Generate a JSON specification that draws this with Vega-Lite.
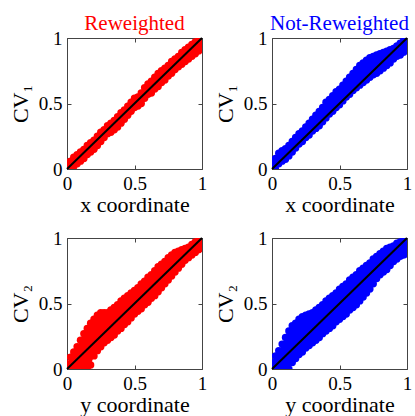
{
  "$schema": "https://vega.github.io/schema/vega-lite/v6.json",
  "padding": {"left": 8, "top": 12, "right": 2, "bottom": 0},
  "background": "white",
  "spacing": 12,
  "config": {
    "view": {"stroke": "#444", "strokeWidth": 1},
    "title": {"font": "Liberation Serif", "fontSize": 21, "fontWeight": "normal", "offset": -5, "frame": "group", "baseline": "alphabetic"}
  },
  "datasets": {
    "band": [
      {"p":"A","x":0,"lo":-0.02,"hi":0.02},{"p":"A","x":0.025,"lo":-0.01,"hi":0.06},{"p":"A","x":0.05,"lo":0.02,"hi":0.09},{"p":"A","x":0.075,"lo":0.04,"hi":0.11},{"p":"A","x":0.1,"lo":0.06,"hi":0.13},{"p":"A","x":0.125,"lo":0.08,"hi":0.15},{"p":"A","x":0.15,"lo":0.11,"hi":0.18},{"p":"A","x":0.175,"lo":0.13,"hi":0.2},{"p":"A","x":0.2,"lo":0.15,"hi":0.22},{"p":"A","x":0.225,"lo":0.18,"hi":0.25},{"p":"A","x":0.25,"lo":0.21,"hi":0.28},{"p":"A","x":0.275,"lo":0.24,"hi":0.3},{"p":"A","x":0.3,"lo":0.27,"hi":0.33},{"p":"A","x":0.325,"lo":0.28,"hi":0.35},{"p":"A","x":0.35,"lo":0.3,"hi":0.37},{"p":"A","x":0.375,"lo":0.32,"hi":0.4},{"p":"A","x":0.4,"lo":0.35,"hi":0.43},{"p":"A","x":0.425,"lo":0.38,"hi":0.45},{"p":"A","x":0.45,"lo":0.41,"hi":0.48},{"p":"A","x":0.475,"lo":0.44,"hi":0.51},{"p":"A","x":0.5,"lo":0.47,"hi":0.54},{"p":"A","x":0.525,"lo":0.48,"hi":0.55},{"p":"A","x":0.55,"lo":0.5,"hi":0.58},{"p":"A","x":0.575,"lo":0.54,"hi":0.62},{"p":"A","x":0.6,"lo":0.57,"hi":0.65},{"p":"A","x":0.625,"lo":0.58,"hi":0.67},{"p":"A","x":0.65,"lo":0.61,"hi":0.7},{"p":"A","x":0.675,"lo":0.63,"hi":0.73},{"p":"A","x":0.7,"lo":0.66,"hi":0.75},{"p":"A","x":0.725,"lo":0.68,"hi":0.77},{"p":"A","x":0.75,"lo":0.71,"hi":0.79},{"p":"A","x":0.775,"lo":0.73,"hi":0.82},{"p":"A","x":0.8,"lo":0.76,"hi":0.84},{"p":"A","x":0.825,"lo":0.78,"hi":0.86},{"p":"A","x":0.85,"lo":0.8,"hi":0.89},{"p":"A","x":0.875,"lo":0.82,"hi":0.91},{"p":"A","x":0.9,"lo":0.84,"hi":0.93},{"p":"A","x":0.925,"lo":0.86,"hi":0.95},{"p":"A","x":0.95,"lo":0.88,"hi":0.97},{"p":"A","x":0.975,"lo":0.9,"hi":0.99},{"p":"A","x":1,"lo":0.93,"hi":1.01},
      {"p":"B","x":0,"lo":-0.02,"hi":0.04},{"p":"B","x":0.025,"lo":0,"hi":0.08},{"p":"B","x":0.05,"lo":0.04,"hi":0.12},{"p":"B","x":0.075,"lo":0.06,"hi":0.14},{"p":"B","x":0.1,"lo":0.075,"hi":0.155},{"p":"B","x":0.125,"lo":0.1,"hi":0.18},{"p":"B","x":0.15,"lo":0.13,"hi":0.21},{"p":"B","x":0.175,"lo":0.16,"hi":0.24},{"p":"B","x":0.2,"lo":0.19,"hi":0.27},{"p":"B","x":0.225,"lo":0.21,"hi":0.29},{"p":"B","x":0.25,"lo":0.24,"hi":0.32},{"p":"B","x":0.275,"lo":0.26,"hi":0.35},{"p":"B","x":0.3,"lo":0.29,"hi":0.38},{"p":"B","x":0.325,"lo":0.31,"hi":0.41},{"p":"B","x":0.35,"lo":0.33,"hi":0.44},{"p":"B","x":0.375,"lo":0.36,"hi":0.47},{"p":"B","x":0.4,"lo":0.39,"hi":0.51},{"p":"B","x":0.425,"lo":0.42,"hi":0.53},{"p":"B","x":0.45,"lo":0.44,"hi":0.56},{"p":"B","x":0.475,"lo":0.47,"hi":0.59},{"p":"B","x":0.5,"lo":0.49,"hi":0.61},{"p":"B","x":0.525,"lo":0.52,"hi":0.64},{"p":"B","x":0.55,"lo":0.55,"hi":0.67},{"p":"B","x":0.575,"lo":0.57,"hi":0.7},{"p":"B","x":0.6,"lo":0.6,"hi":0.73},{"p":"B","x":0.625,"lo":0.62,"hi":0.76},{"p":"B","x":0.65,"lo":0.64,"hi":0.79},{"p":"B","x":0.675,"lo":0.66,"hi":0.81},{"p":"B","x":0.7,"lo":0.68,"hi":0.83},{"p":"B","x":0.725,"lo":0.7,"hi":0.85},{"p":"B","x":0.75,"lo":0.72,"hi":0.86},{"p":"B","x":0.775,"lo":0.73,"hi":0.87},{"p":"B","x":0.8,"lo":0.75,"hi":0.88},{"p":"B","x":0.825,"lo":0.77,"hi":0.89},{"p":"B","x":0.85,"lo":0.79,"hi":0.9},{"p":"B","x":0.875,"lo":0.81,"hi":0.91},{"p":"B","x":0.9,"lo":0.84,"hi":0.92},{"p":"B","x":0.925,"lo":0.86,"hi":0.94},{"p":"B","x":0.95,"lo":0.87,"hi":0.96},{"p":"B","x":0.975,"lo":0.89,"hi":0.98},{"p":"B","x":1,"lo":0.91,"hi":1},
      {"p":"C","x":0,"lo":-0.03,"hi":0.04},{"p":"C","x":0.025,"lo":-0.02,"hi":0.09},{"p":"C","x":0.05,"lo":0,"hi":0.13},{"p":"C","x":0.075,"lo":0.01,"hi":0.17},{"p":"C","x":0.1,"lo":0.03,"hi":0.22},{"p":"C","x":0.125,"lo":0.01,"hi":0.27},{"p":"C","x":0.15,"lo":0,"hi":0.31},{"p":"C","x":0.175,"lo":0.03,"hi":0.35},{"p":"C","x":0.2,"lo":0.1,"hi":0.38},{"p":"C","x":0.225,"lo":0.14,"hi":0.41},{"p":"C","x":0.25,"lo":0.17,"hi":0.43},{"p":"C","x":0.275,"lo":0.2,"hi":0.43},{"p":"C","x":0.3,"lo":0.22,"hi":0.43},{"p":"C","x":0.325,"lo":0.24,"hi":0.45},{"p":"C","x":0.35,"lo":0.26,"hi":0.47},{"p":"C","x":0.375,"lo":0.29,"hi":0.49},{"p":"C","x":0.4,"lo":0.31,"hi":0.52},{"p":"C","x":0.425,"lo":0.34,"hi":0.54},{"p":"C","x":0.45,"lo":0.36,"hi":0.56},{"p":"C","x":0.475,"lo":0.39,"hi":0.58},{"p":"C","x":0.5,"lo":0.42,"hi":0.6},{"p":"C","x":0.525,"lo":0.44,"hi":0.62},{"p":"C","x":0.55,"lo":0.46,"hi":0.65},{"p":"C","x":0.575,"lo":0.49,"hi":0.67},{"p":"C","x":0.6,"lo":0.51,"hi":0.7},{"p":"C","x":0.625,"lo":0.54,"hi":0.72},{"p":"C","x":0.65,"lo":0.56,"hi":0.75},{"p":"C","x":0.675,"lo":0.59,"hi":0.78},{"p":"C","x":0.7,"lo":0.62,"hi":0.8},{"p":"C","x":0.725,"lo":0.65,"hi":0.82},{"p":"C","x":0.75,"lo":0.68,"hi":0.85},{"p":"C","x":0.775,"lo":0.71,"hi":0.87},{"p":"C","x":0.8,"lo":0.74,"hi":0.89},{"p":"C","x":0.825,"lo":0.77,"hi":0.9},{"p":"C","x":0.85,"lo":0.8,"hi":0.91},{"p":"C","x":0.875,"lo":0.83,"hi":0.92},{"p":"C","x":0.9,"lo":0.85,"hi":0.93},{"p":"C","x":0.925,"lo":0.87,"hi":0.95},{"p":"C","x":0.95,"lo":0.89,"hi":0.97},{"p":"C","x":0.975,"lo":0.91,"hi":0.99},{"p":"C","x":1,"lo":0.93,"hi":1.01},
      {"p":"D","x":0,"lo":-0.03,"hi":0.05},{"p":"D","x":0.025,"lo":-0.03,"hi":0.1},{"p":"D","x":0.05,"lo":-0.02,"hi":0.14},{"p":"D","x":0.075,"lo":-0.02,"hi":0.19},{"p":"D","x":0.1,"lo":-0.01,"hi":0.24},{"p":"D","x":0.125,"lo":0,"hi":0.29},{"p":"D","x":0.15,"lo":0.05,"hi":0.33},{"p":"D","x":0.175,"lo":0.08,"hi":0.35},{"p":"D","x":0.2,"lo":0.11,"hi":0.38},{"p":"D","x":0.225,"lo":0.13,"hi":0.4},{"p":"D","x":0.25,"lo":0.16,"hi":0.41},{"p":"D","x":0.275,"lo":0.18,"hi":0.42},{"p":"D","x":0.3,"lo":0.2,"hi":0.43},{"p":"D","x":0.325,"lo":0.22,"hi":0.45},{"p":"D","x":0.35,"lo":0.24,"hi":0.47},{"p":"D","x":0.375,"lo":0.27,"hi":0.49},{"p":"D","x":0.4,"lo":0.29,"hi":0.52},{"p":"D","x":0.425,"lo":0.31,"hi":0.54},{"p":"D","x":0.45,"lo":0.33,"hi":0.56},{"p":"D","x":0.475,"lo":0.36,"hi":0.58},{"p":"D","x":0.5,"lo":0.38,"hi":0.61},{"p":"D","x":0.525,"lo":0.4,"hi":0.63},{"p":"D","x":0.55,"lo":0.42,"hi":0.65},{"p":"D","x":0.575,"lo":0.45,"hi":0.68},{"p":"D","x":0.6,"lo":0.47,"hi":0.7},{"p":"D","x":0.625,"lo":0.49,"hi":0.72},{"p":"D","x":0.65,"lo":0.52,"hi":0.75},{"p":"D","x":0.675,"lo":0.55,"hi":0.77},{"p":"D","x":0.7,"lo":0.58,"hi":0.79},{"p":"D","x":0.725,"lo":0.61,"hi":0.81},{"p":"D","x":0.75,"lo":0.65,"hi":0.84},{"p":"D","x":0.775,"lo":0.69,"hi":0.86},{"p":"D","x":0.8,"lo":0.72,"hi":0.88},{"p":"D","x":0.825,"lo":0.74,"hi":0.9},{"p":"D","x":0.85,"lo":0.76,"hi":0.92},{"p":"D","x":0.875,"lo":0.79,"hi":0.93},{"p":"D","x":0.9,"lo":0.82,"hi":0.94},{"p":"D","x":0.925,"lo":0.84,"hi":0.96},{"p":"D","x":0.95,"lo":0.86,"hi":0.97},{"p":"D","x":0.975,"lo":0.87,"hi":0.99},{"p":"D","x":1,"lo":0.88,"hi":1}
    ],
    "diag": [{"x": 0, "y": 0}, {"x": 1, "y": 1}]
  },
  "vconcat": [
    {
      "spacing": 5,
      "hconcat": [
        {
          "width": 135, "height": 131,
          "title": {"text": "Reweighted", "color": "#ff0000"},
          "layer": [
            {"data": {"name": "band"}, "transform": [{"filter": "datum.p == 'A'"}],
             "mark": {"type": "area", "color": "#ff0000", "clip": true},
             "encoding": {
               "x": {"field": "x", "type": "quantitative", "scale": {"domain": [0, 1]}, "axis": {"orient": "bottom", "title": "x coordinate", "values": [0, 0.5, 1], "format": "~g", "labelFont": "Liberation Serif", "labelFontSize": 19, "labelColor": "#000", "labelFlush": false, "labelPadding": 9, "titleFont": "Liberation Serif", "titleFontSize": 22, "titleFontWeight": "normal", "titleColor": "#000", "titlePadding": 1, "domain": false, "grid": false, "tickColor": "#444", "tickSize": -4}},
               "y": {"field": "lo", "type": "quantitative", "scale": {"domain": [0, 1]}, "axis": {"orient": "left", "title": "CV₁", "values": [0, 0.5, 1], "format": "~g", "labelFont": "Liberation Serif", "labelFontSize": 19, "labelColor": "#000", "labelFlush": false, "labelPadding": 9, "titleFont": "Liberation Serif", "titleFontSize": 22, "titleFontWeight": "normal", "titleColor": "#000", "titlePadding": 6, "domain": false, "grid": false, "tickColor": "#444", "tickSize": -4}},
               "y2": {"field": "hi"}}},
            {"data": {"name": "band"}, "transform": [{"filter": "datum.p == 'A'"}],
             "mark": {"type": "circle", "color": "#ff0000", "opacity": 1, "size": 55, "clip": true},
             "encoding": {
               "x": {"field": "x", "type": "quantitative", "scale": {"domain": [0, 1]}, "axis": {"orient": "top", "labels": false, "title": null, "values": [0, 0.5, 1], "domain": false, "grid": false, "tickColor": "#444", "tickSize": -4}},
               "y": {"field": "lo", "type": "quantitative", "scale": {"domain": [0, 1]}, "axis": {"orient": "right", "labels": false, "title": null, "values": [0, 0.5, 1], "domain": false, "grid": false, "tickColor": "#444", "tickSize": -4}}}},
            {"data": {"name": "band"}, "transform": [{"filter": "datum.p == 'A'"}],
             "mark": {"type": "circle", "color": "#ff0000", "opacity": 1, "size": 55, "clip": true},
             "encoding": {
               "x": {"field": "x", "type": "quantitative", "scale": {"domain": [0, 1]}, "axis": null},
               "y": {"field": "hi", "type": "quantitative", "scale": {"domain": [0, 1]}, "axis": null}}},
            {"data": {"name": "diag"},
             "mark": {"type": "line", "color": "#000", "strokeWidth": 2},
             "encoding": {
               "x": {"field": "x", "type": "quantitative", "scale": {"domain": [0, 1]}, "axis": null},
               "y": {"field": "y", "type": "quantitative", "scale": {"domain": [0, 1]}, "axis": null}}}
          ]
        },
        {
          "width": 135, "height": 131,
          "title": {"text": "Not-Reweighted", "color": "#0000ff"},
          "layer": [
            {"data": {"name": "band"}, "transform": [{"filter": "datum.p == 'B'"}],
             "mark": {"type": "area", "color": "#0000ff", "clip": true},
             "encoding": {
               "x": {"field": "x", "type": "quantitative", "scale": {"domain": [0, 1]}, "axis": {"orient": "bottom", "title": "x coordinate", "values": [0, 0.5, 1], "format": "~g", "labelFont": "Liberation Serif", "labelFontSize": 19, "labelColor": "#000", "labelFlush": false, "labelPadding": 9, "titleFont": "Liberation Serif", "titleFontSize": 22, "titleFontWeight": "normal", "titleColor": "#000", "titlePadding": 1, "domain": false, "grid": false, "tickColor": "#444", "tickSize": -4}},
               "y": {"field": "lo", "type": "quantitative", "scale": {"domain": [0, 1]}, "axis": {"orient": "left", "title": "CV₁", "values": [0, 0.5, 1], "format": "~g", "labelFont": "Liberation Serif", "labelFontSize": 19, "labelColor": "#000", "labelFlush": false, "labelPadding": 9, "titleFont": "Liberation Serif", "titleFontSize": 22, "titleFontWeight": "normal", "titleColor": "#000", "titlePadding": 6, "domain": false, "grid": false, "tickColor": "#444", "tickSize": -4}},
               "y2": {"field": "hi"}}},
            {"data": {"name": "band"}, "transform": [{"filter": "datum.p == 'B'"}],
             "mark": {"type": "circle", "color": "#0000ff", "opacity": 1, "size": 55, "clip": true},
             "encoding": {
               "x": {"field": "x", "type": "quantitative", "scale": {"domain": [0, 1]}, "axis": {"orient": "top", "labels": false, "title": null, "values": [0, 0.5, 1], "domain": false, "grid": false, "tickColor": "#444", "tickSize": -4}},
               "y": {"field": "lo", "type": "quantitative", "scale": {"domain": [0, 1]}, "axis": {"orient": "right", "labels": false, "title": null, "values": [0, 0.5, 1], "domain": false, "grid": false, "tickColor": "#444", "tickSize": -4}}}},
            {"data": {"name": "band"}, "transform": [{"filter": "datum.p == 'B'"}],
             "mark": {"type": "circle", "color": "#0000ff", "opacity": 1, "size": 55, "clip": true},
             "encoding": {
               "x": {"field": "x", "type": "quantitative", "scale": {"domain": [0, 1]}, "axis": null},
               "y": {"field": "hi", "type": "quantitative", "scale": {"domain": [0, 1]}, "axis": null}}},
            {"data": {"name": "diag"},
             "mark": {"type": "line", "color": "#000", "strokeWidth": 2},
             "encoding": {
               "x": {"field": "x", "type": "quantitative", "scale": {"domain": [0, 1]}, "axis": null},
               "y": {"field": "y", "type": "quantitative", "scale": {"domain": [0, 1]}, "axis": null}}}
          ]
        }
      ]
    },
    {
      "spacing": 5,
      "hconcat": [
        {
          "width": 135, "height": 131,
          "layer": [
            {"data": {"name": "band"}, "transform": [{"filter": "datum.p == 'C'"}],
             "mark": {"type": "area", "color": "#ff0000", "clip": true},
             "encoding": {
               "x": {"field": "x", "type": "quantitative", "scale": {"domain": [0, 1]}, "axis": {"orient": "bottom", "title": "y coordinate", "values": [0, 0.5, 1], "format": "~g", "labelFont": "Liberation Serif", "labelFontSize": 19, "labelColor": "#000", "labelFlush": false, "labelPadding": 9, "titleFont": "Liberation Serif", "titleFontSize": 22, "titleFontWeight": "normal", "titleColor": "#000", "titlePadding": 1, "domain": false, "grid": false, "tickColor": "#444", "tickSize": -4}},
               "y": {"field": "lo", "type": "quantitative", "scale": {"domain": [0, 1]}, "axis": {"orient": "left", "title": "CV₂", "values": [0, 0.5, 1], "format": "~g", "labelFont": "Liberation Serif", "labelFontSize": 19, "labelColor": "#000", "labelFlush": false, "labelPadding": 9, "titleFont": "Liberation Serif", "titleFontSize": 22, "titleFontWeight": "normal", "titleColor": "#000", "titlePadding": 6, "domain": false, "grid": false, "tickColor": "#444", "tickSize": -4}},
               "y2": {"field": "hi"}}},
            {"data": {"name": "band"}, "transform": [{"filter": "datum.p == 'C'"}],
             "mark": {"type": "circle", "color": "#ff0000", "opacity": 1, "size": 55, "clip": true},
             "encoding": {
               "x": {"field": "x", "type": "quantitative", "scale": {"domain": [0, 1]}, "axis": {"orient": "top", "labels": false, "title": null, "values": [0, 0.5, 1], "domain": false, "grid": false, "tickColor": "#444", "tickSize": -4}},
               "y": {"field": "lo", "type": "quantitative", "scale": {"domain": [0, 1]}, "axis": {"orient": "right", "labels": false, "title": null, "values": [0, 0.5, 1], "domain": false, "grid": false, "tickColor": "#444", "tickSize": -4}}}},
            {"data": {"name": "band"}, "transform": [{"filter": "datum.p == 'C'"}],
             "mark": {"type": "circle", "color": "#ff0000", "opacity": 1, "size": 55, "clip": true},
             "encoding": {
               "x": {"field": "x", "type": "quantitative", "scale": {"domain": [0, 1]}, "axis": null},
               "y": {"field": "hi", "type": "quantitative", "scale": {"domain": [0, 1]}, "axis": null}}},
            {"data": {"name": "diag"},
             "mark": {"type": "line", "color": "#000", "strokeWidth": 2},
             "encoding": {
               "x": {"field": "x", "type": "quantitative", "scale": {"domain": [0, 1]}, "axis": null},
               "y": {"field": "y", "type": "quantitative", "scale": {"domain": [0, 1]}, "axis": null}}}
          ]
        },
        {
          "width": 135, "height": 131,
          "layer": [
            {"data": {"name": "band"}, "transform": [{"filter": "datum.p == 'D'"}],
             "mark": {"type": "area", "color": "#0000ff", "clip": true},
             "encoding": {
               "x": {"field": "x", "type": "quantitative", "scale": {"domain": [0, 1]}, "axis": {"orient": "bottom", "title": "y coordinate", "values": [0, 0.5, 1], "format": "~g", "labelFont": "Liberation Serif", "labelFontSize": 19, "labelColor": "#000", "labelFlush": false, "labelPadding": 9, "titleFont": "Liberation Serif", "titleFontSize": 22, "titleFontWeight": "normal", "titleColor": "#000", "titlePadding": 1, "domain": false, "grid": false, "tickColor": "#444", "tickSize": -4}},
               "y": {"field": "lo", "type": "quantitative", "scale": {"domain": [0, 1]}, "axis": {"orient": "left", "title": "CV₂", "values": [0, 0.5, 1], "format": "~g", "labelFont": "Liberation Serif", "labelFontSize": 19, "labelColor": "#000", "labelFlush": false, "labelPadding": 9, "titleFont": "Liberation Serif", "titleFontSize": 22, "titleFontWeight": "normal", "titleColor": "#000", "titlePadding": 6, "domain": false, "grid": false, "tickColor": "#444", "tickSize": -4}},
               "y2": {"field": "hi"}}},
            {"data": {"name": "band"}, "transform": [{"filter": "datum.p == 'D'"}],
             "mark": {"type": "circle", "color": "#0000ff", "opacity": 1, "size": 55, "clip": true},
             "encoding": {
               "x": {"field": "x", "type": "quantitative", "scale": {"domain": [0, 1]}, "axis": {"orient": "top", "labels": false, "title": null, "values": [0, 0.5, 1], "domain": false, "grid": false, "tickColor": "#444", "tickSize": -4}},
               "y": {"field": "lo", "type": "quantitative", "scale": {"domain": [0, 1]}, "axis": {"orient": "right", "labels": false, "title": null, "values": [0, 0.5, 1], "domain": false, "grid": false, "tickColor": "#444", "tickSize": -4}}}},
            {"data": {"name": "band"}, "transform": [{"filter": "datum.p == 'D'"}],
             "mark": {"type": "circle", "color": "#0000ff", "opacity": 1, "size": 55, "clip": true},
             "encoding": {
               "x": {"field": "x", "type": "quantitative", "scale": {"domain": [0, 1]}, "axis": null},
               "y": {"field": "hi", "type": "quantitative", "scale": {"domain": [0, 1]}, "axis": null}}},
            {"data": {"name": "diag"},
             "mark": {"type": "line", "color": "#000", "strokeWidth": 2},
             "encoding": {
               "x": {"field": "x", "type": "quantitative", "scale": {"domain": [0, 1]}, "axis": null},
               "y": {"field": "y", "type": "quantitative", "scale": {"domain": [0, 1]}, "axis": null}}}
          ]
        }
      ]
    }
  ]
}
